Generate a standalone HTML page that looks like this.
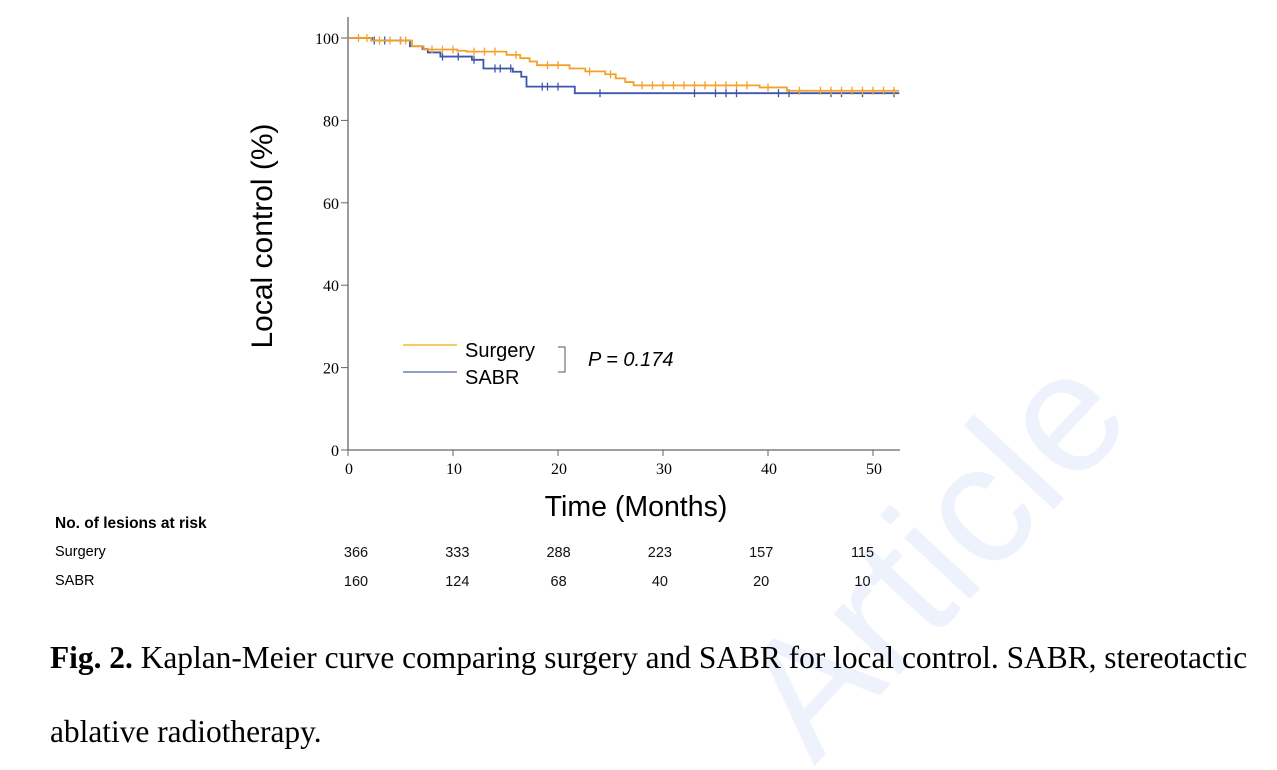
<!DOCTYPE html>
<html><head><meta charset="utf-8"><style>
html,body{margin:0;background:#fff;width:1277px;height:770px;overflow:hidden;position:relative;font-family:"Liberation Sans",sans-serif}
.t{position:absolute;white-space:nowrap}
.cap{font-family:"Liberation Serif",serif;font-size:31.4px;color:#000}
.rt{font-size:14.5px;color:#111;position:absolute}
</style></head><body>
<div class="t" style="left:700px;top:660px;font-size:170px;color:#eef2fd;transform:rotate(-47deg);transform-origin:0 0;z-index:0">Article</div>
<svg width="1277" height="770" style="position:absolute;left:0;top:0">
<g id="axes"></g>
<g id="curves"></g>
<text x="272" y="236" font-size="30" font-family="Liberation Sans" text-anchor="middle" transform="rotate(-90 272 236)">Local control (%)</text>
<text x="636" y="516" font-size="28.5" font-family="Liberation Sans" text-anchor="middle">Time (Months)</text>
<line x1="403" y1="345" x2="457" y2="345" stroke="#f5b82e" stroke-width="1.5"/>
<text x="465" y="357" font-size="20">Surgery</text>
<line x1="403" y1="372" x2="457" y2="372" stroke="#6a7fb8" stroke-width="1.5"/>
<text x="465" y="384" font-size="20">SABR</text>
<path d="M558 347 H565 V372 H558" fill="none" stroke="#555" stroke-width="1"/>
<text x="588" y="366" font-size="20" font-style="italic">P = 0.174</text>
</svg>
<div class="t" style="left:55px;top:515px;font-size:15.5px;font-weight:bold">No. of lesions at risk</div>
<div class="t" style="left:55px;top:544px;font-size:14.5px">Surgery</div>
<div class="t" style="left:55px;top:573px;font-size:14.5px">SABR</div>
<div id="risk"></div>
<div class="t cap" style="left:50px;top:640px"><b>Fig. 2.</b> Kaplan-Meier curve comparing surgery and SABR for local control. SABR, stereotactic</div>
<div class="t cap" style="left:50px;top:714px">ablative radiotherapy.</div>
<script>
const xTicks=[0,10,20,30,40,50];
const yTicks=[0,20,40,60,80,100];
const surgT=[0,2.2,6.1,7.2,10.4,11.3,15.1,16.4,17.3,18,21.1,22.6,24.5,25.5,26.4,27.2,39.2,41.8,52.5];
const surgV=[100,99.4,98,97.2,96.9,96.7,95.9,95.1,94.3,93.4,92.6,91.9,91.2,90.2,89.3,88.5,88,87.2,87.2];
const sabrT=[0,2.3,5.9,7.1,7.6,8.8,11.8,12.9,15.7,16.5,17,21.6,52.5];
const sabrV=[100,99.4,98,97.3,96.5,95.5,94.7,92.6,91.8,90.6,88.2,86.6,86.6];
const surgCens=[1,1.8,3,4,5,5.5,8,9,10,12,13,14,16,19,20,23,25,28,29,30,31,32,33,34,35,36,37,38,40,43,45,46,47,48,49,50,51,52];
const sabrCens=[2.5,3.5,5,9,10.5,12,14,14.5,15.5,18.5,19,20,24,33,35,36,37,41,42,46,47,49,52];
const riskSurg=[366,333,288,223,157,115];
const riskSabr=[160,124,68,40,20,10];
const X=t=>348+t*10.5, Y=v=>450-v*4.12;
const RX=t=>356+t*10.13;
const NS="http://www.w3.org/2000/svg";
function mk(p,tag,a){const e=document.createElementNS(NS,tag);for(const k in a)e.setAttribute(k,a[k]);p.appendChild(e);return e;}
const ax=document.getElementById('axes');
let l=mk(ax,'line',{x1:348,y1:17,x2:348,y2:450,stroke:'#666','stroke-width':1.3});


l=mk(ax,'line',{x1:348,y1:450,x2:900,y2:450,stroke:'#666','stroke-width':1.3});


yTicks.forEach(v=>{const e=mk(ax,'line',{x1:341,y1:Y(v),x2:348,y2:Y(v),stroke:'#666'});


const t=mk(ax,'text',{x:339,y:Y(v)+6,'font-size':16,'font-family':'Liberation Serif','text-anchor':'end'});t.textContent=v;

});
xTicks.forEach(v=>{const e=mk(ax,'line',{x1:X(v),y1:450,x2:X(v),y2:456,stroke:'#666'});


const t=mk(ax,'text',{x:X(v)+1,y:474,'font-size':16,'font-family':'Liberation Serif','text-anchor':'middle'});t.textContent=v;

});
const cv=document.getElementById('curves');
function vAt(T,V,t){let v=V[0];for(let i=0;i<T.length;i++)if(T[i]<=t)v=V[i];return v;}
function draw(T,V,C,col,name){let d='M'+X(T[0])+' '+Y(V[0]);for(let i=1;i<T.length;i++){d+=' H'+X(T[i])+' V'+Y(V[i]);}
const p=mk(cv,'path',{d:d,fill:'none',stroke:col,'stroke-width':1.8});


C.forEach(t=>{const y=Y(vAt(T,V,t));const e=mk(cv,'line',{x1:X(t),y1:y-4,x2:X(t),y2:y+4,stroke:col,'stroke-width':1.3});

});}
draw(sabrT,sabrV,sabrCens,'#3f56ad','sabr');
draw(surgT,surgV,surgCens,'#f4a12a','surgery');
const rk=document.getElementById('risk');
xTicks.forEach((t,i)=>{[[riskSurg,545,'risk-surgery-value'],[riskSabr,574,'risk-sabr-value']].forEach(r=>{const d=document.createElement('div');d.className='rt';d.style.left=(RX(t)-20)+'px';d.style.width='40px';d.style.textAlign='center';d.style.top=r[1]+'px';d.textContent=r[0][i];


rk.appendChild(d);});});
</script>
</body></html>
